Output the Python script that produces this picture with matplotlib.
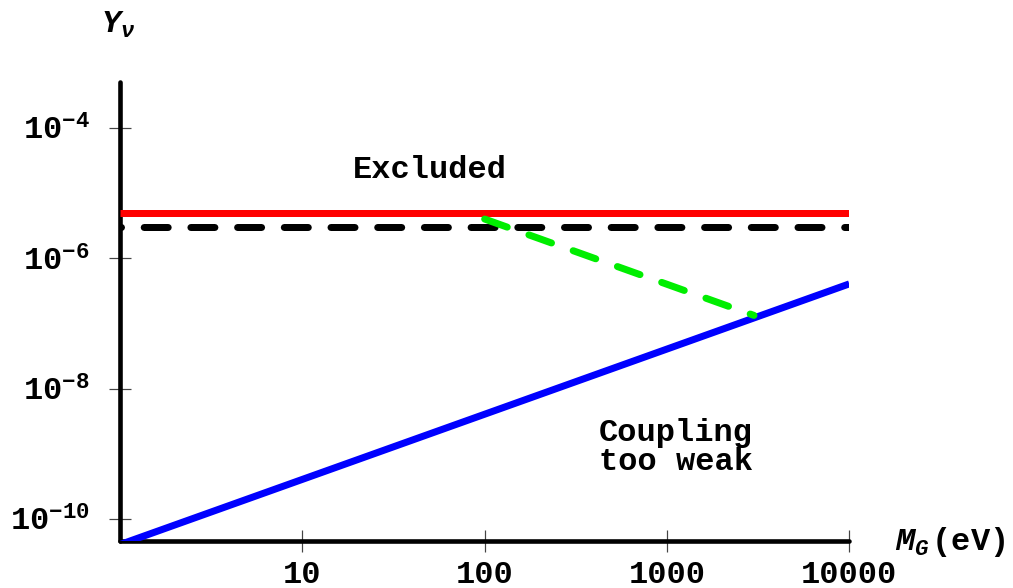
import matplotlib
matplotlib.use("Agg")
import matplotlib.pyplot as plt
import numpy as np

# ---- data ----
mass_range = [1, 10000]                 # M_G (eV), axis span
upper_bound = [5.0e-6, 5.0e-6]          # solid red limit
lower_bound = [3.0e-6, 3.0e-6]          # dashed black limit
weak_x = [1, 10000]                     # "coupling too weak" boundary
weak_y = [4.05e-11, 4.05e-7]
green_x = [100, 3000]                   # dashed green boundary
green_y = [4.0e-6, 1.33e-7]

xtick_vals = [10, 100, 1000, 10000]
xtick_labels = ["10", "100", "1000", "10000"]
ytick_vals = [1e-4, 1e-6, 1e-8, 1e-10]
ytick_labels = [r"$10^{-4}$", r"$10^{-6}$", r"$10^{-8}$", r"$10^{-10}$"]

plt.rcParams["font.family"] = ["Liberation Mono", "DejaVu Sans"]
plt.rcParams["font.weight"] = "bold"
plt.rcParams["mathtext.fontset"] = "custom"
plt.rcParams["mathtext.rm"] = "Liberation Mono:bold"
plt.rcParams["mathtext.it"] = "Liberation Mono:italic:bold"
plt.rcParams["mathtext.bf"] = "Liberation Mono:bold"
plt.rcParams["lines.scale_dashes"] = False

W, H = 1013, 588
fig = plt.figure(figsize=(W / 100, H / 100), dpi=100)
left, right, top, bottom = 120, 849.3, 82, 540.7
ax = fig.add_axes([left / W, (H - bottom) / H, (right - left) / W, (bottom - top) / H])
ax.set_xscale("log")
ax.set_yscale("log")
ax.set_xlim(mass_range[0], mass_range[1])
ax.set_ylim(10 ** -10.333, 10 ** -3.295)

px = 72 / 100  # points per pixel

# dashed black line
ax.plot(mass_range, lower_bound, color="black", lw=7 * px,
        dash_capstyle="round", zorder=3,
        linestyle=(23 * px, (24 * px, 22.7 * px)))
# solid red line
ax.plot(mass_range, upper_bound, color="#ff0000", lw=7 * px,
        solid_capstyle="butt", zorder=4)
# blue line
ax.plot(weak_x, weak_y, color="#0000ff", lw=7 * px, solid_capstyle="butt", zorder=4)
# dashed green line
ax.plot(green_x, green_y, color="#00ee00", lw=7 * px,
        dash_capstyle="round", zorder=5,
        linestyle=(0, (24 * px, 23 * px)))

for side in ("top", "right"):
    ax.spines[side].set_visible(False)
for side in ("left", "bottom"):
    ax.spines[side].set_linewidth(4.6 * px)
    ax.spines[side].set_capstyle("round")

ax.minorticks_off()
ax.set_xticks(xtick_vals)
ax.set_xticklabels(xtick_labels)
ax.set_yticks(ytick_vals)
ax.set_yticklabels(ytick_labels)
ax.tick_params(axis="both", direction="inout", length=22 * px, width=1.2 * px,
               color="#444444", labelsize=23, labelcolor="black")
ax.tick_params(axis="x", pad=6)
ax.tick_params(axis="y", pad=14)
for lab in ax.get_xticklabels() + ax.get_yticklabels():
    lab.set_fontweight("bold")

ax.text(0.425, 0.808, "Excluded", transform=ax.transAxes, ha="center",
        va="center", fontsize=23, fontweight="bold")
ax.text(0.762, 0.204, "Coupling\ntoo weak", transform=ax.transAxes, ha="center",
        va="center", fontsize=23, fontweight="bold", linespacing=0.95)

fig.text(118 / W, 1 - 25 / H, r"$Y_{\nu}$", ha="center", va="center", fontsize=23)
fig.text(895 / W, 1 - 542 / H, r"$M_G\,$(eV)", ha="left", va="center", fontsize=23)

fig.savefig("out.png", dpi=100)
